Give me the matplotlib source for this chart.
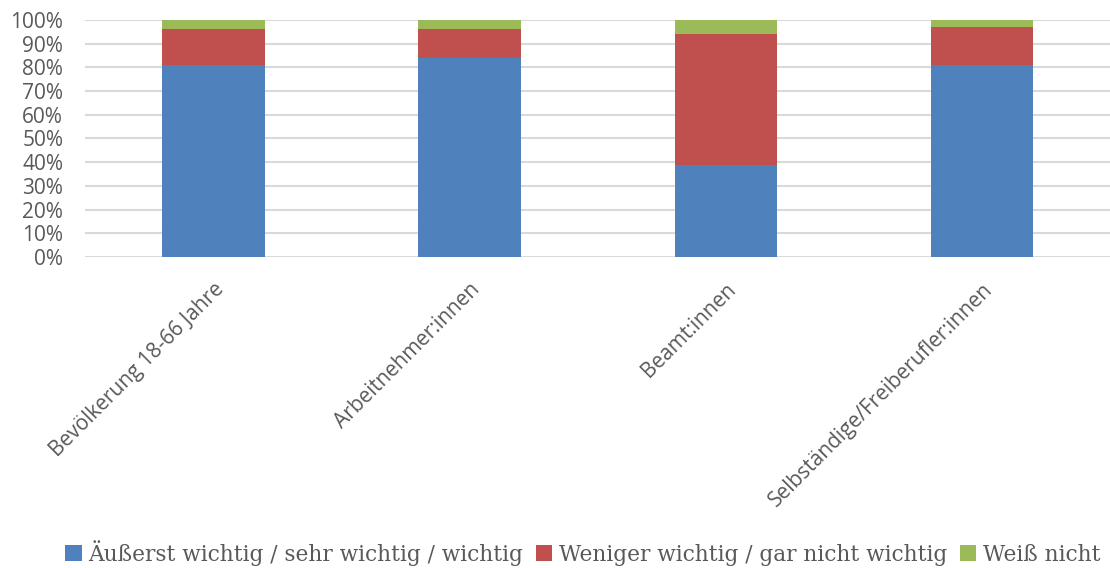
import matplotlib.pyplot as plt
import numpy as np

categories = ['Bevölkerung 18-66 Jahre', 'Arbeitnehmer:innen', 'Beamt:innen',
              'Selbständige/Freiberufler:innen']
wichtig = [81, 84, 39, 81]
weniger = [15, 12, 55, 16]
weiss_nicht = [4, 4, 6, 3]
series_names = ['Äußerst wichtig / sehr wichtig / wichtig',
                'Weniger wichtig / gar nicht wichtig', 'Weiß nicht']
colors = ['#4F81BD', '#C0504D', '#9BBB59']

fig = plt.figure(figsize=(11.1, 5.68), dpi=100)
ax = fig.add_axes([0.077, 0.5475, 0.923, 0.4175])

x = np.arange(len(categories))
width = 0.4
bottom = np.zeros(len(categories))
handles = []
for vals, name, c in zip([wichtig, weniger, weiss_nicht], series_names, colors):
    b = ax.bar(x, vals, width, bottom=bottom, color=c, label=name, zorder=3)
    handles.append(b)
    bottom += np.array(vals)

ax.set_xlim(-0.5, len(categories) - 0.5)
ax.set_ylim(0, 100)
ax.set_yticks(np.arange(0, 101, 10))
ax.set_yticklabels([f'{v}%' for v in range(0, 101, 10)], family='Open Sans',
                   fontsize=15, color='#595959')
ax.grid(axis='y', color='#D9D9D9', linewidth=1.5, zorder=0)
for s in ax.spines.values():
    s.set_visible(False)
ax.tick_params(axis='y', length=0, pad=16)
ax.tick_params(axis='x', length=0, pad=16)

ax.set_xticks(x)
ax.set_xticklabels(categories, rotation=45, ha='right', rotation_mode='anchor',
                   family='Open Sans', fontsize=15, color='#595959')

fig.legend(handles=handles, labels=series_names, loc='lower center',
           bbox_to_anchor=(0.525, -0.03), ncol=3, frameon=False,
           prop={'family': 'DejaVu Serif', 'size': 15.6},
           handlelength=0.75, handleheight=0.75, handletextpad=0.3,
           columnspacing=0.6, labelcolor='#595959')

fig.savefig('out.png', dpi=100)
